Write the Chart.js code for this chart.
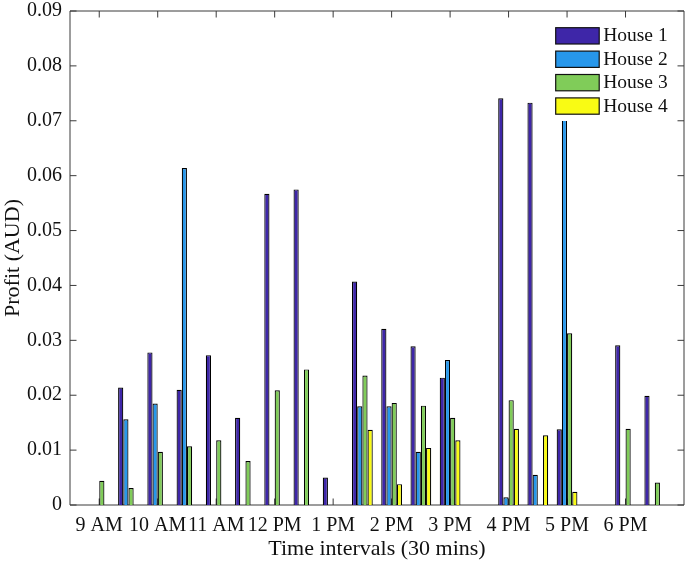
<!DOCTYPE html>
<html>
<head>
<meta charset="utf-8">
<script src="https://cdn.jsdelivr.net/npm/chart.js@4/dist/chart.umd.min.js"></script>
<style>
  html, body { margin: 0; padding: 0; background: #fff; }
  canvas { display: block; }
</style>
</head>
<body>
<canvas id="profitChart" width="685" height="564"></canvas>
<script>
// setup
const intervals = ['9:00', '9:30', '10:00', '10:30', '11:00', '11:30', '12:00', '12:30', '13:00', '13:30',
  '14:00', '14:30', '15:00', '15:30', '16:00', '16:30', '17:00', '17:30', '18:00', '18:30'];
const xTickLabels = ['9 AM', '10 AM', '11 AM', '12 PM', '1 PM', '2 PM', '3 PM', '4 PM', '5 PM', '6 PM'];
const yTicks = [0, 0.01, 0.02, 0.03, 0.04, 0.05, 0.06, 0.07, 0.08, 0.09];
const houseNames = ['House 1', 'House 2', 'House 3', 'House 4'];

const house1 = [0, 0.0214, 0.0278, 0.0210, 0.0273, 0.0159, 0.0567, 0.0575, 0.0050, 0.0407,
  0.0321, 0.0289, 0.0232, 0, 0.0741, 0.0733, 0.0138, 0, 0.0291, 0.0199];
const house2 = [0, 0.0156, 0.0185, 0.0614, 0, 0, 0, 0, 0, 0.0180,
  0.0180, 0.0097, 0.0264, 0, 0.0014, 0.0055, 0.0710, 0, 0, 0];
const house3 = [0.0044, 0.0031, 0.0097, 0.0107, 0.0118, 0.0080, 0.0209, 0.0247, 0, 0.0236,
  0.0186, 0.0181, 0.0159, 0, 0.0191, 0, 0.0313, 0, 0.0139, 0.0041];
const house4 = [0, 0, 0, 0, 0, 0, 0, 0, 0, 0.0137,
  0.0038, 0.0104, 0.0118, 0, 0.0139, 0.0127, 0.0024, 0, 0, 0];

const colors = ['#3e26a8', '#2797eb', '#80cc59', '#f9fb14'];

// x position of each interval is its 1-based index, hour ticks sit on the full hours
const xTickPos = intervals.map((t, i) => i + 1).filter((p, i) => intervals[i].endsWith(':00'));

const toPoints = arr => arr.map((v, i) => ({ x: i + 1, y: v }));

const data = {
  datasets: [house1, house2, house3, house4].map((arr, i) => ({
    label: houseNames[i],
    data: toPoints(arr),
    backgroundColor: colors[i],
    borderColor: '#000',
    borderWidth: 1.2,
    categoryPercentage: 0.71,
    barPercentage: 1.0
  }))
};

const axisColor = '#3a3a3a';
const tickLen = 6.5;

// MATLAB-like box with inward ticks on all four sides
const boxTicks = {
  id: 'boxTicks',
  beforeDatasetsDraw(chart) {
    const ctx = chart.ctx, a = chart.chartArea;
    const xs = chart.scales.x, ys = chart.scales.y;
    ctx.save();
    ctx.strokeStyle = axisColor;
    ctx.lineWidth = 1;
    ctx.beginPath();
    ctx.rect(a.left, a.top, a.right - a.left, a.bottom - a.top);
    xTickPos.forEach(v => {
      const px = xs.getPixelForValue(v);
      ctx.moveTo(px, a.bottom); ctx.lineTo(px, a.bottom - tickLen);
      ctx.moveTo(px, a.top); ctx.lineTo(px, a.top + tickLen);
    });
    yTicks.forEach(v => {
      const py = ys.getPixelForValue(v);
      ctx.moveTo(a.left, py); ctx.lineTo(a.left + tickLen, py);
      ctx.moveTo(a.right, py); ctx.lineTo(a.right - tickLen, py);
    });
    ctx.stroke();
    ctx.restore();
  }
};

// legend inside the axes, top right, on a white patch
const insideLegend = {
  id: 'insideLegend',
  afterDatasetsDraw(chart) {
    const ctx = chart.ctx, a = chart.chartArea;
    const bx = a.right - 134, by = a.top + 8;
    ctx.save();
    ctx.fillStyle = '#fff';
    ctx.fillRect(bx, by, 125, 102);
    ctx.font = '19.5px "Liberation Serif"';
    ctx.textBaseline = 'middle';
    ctx.textAlign = 'left';
    chart.data.datasets.forEach((ds, i) => {
      const y = a.top + 16.7 + i * 23.4;
      const x = a.right - 128.3;
      ctx.fillStyle = ds.backgroundColor;
      ctx.fillRect(x, y, 43.5, 16.3);
      ctx.strokeStyle = '#111';
      ctx.lineWidth = 1.2;
      ctx.strokeRect(x, y, 43.5, 16.3);
      ctx.fillStyle = '#111';
      ctx.fillText(ds.label, x + 47.5, y + 8.6);
    });
    ctx.restore();
  }
};

// config
const config = {
  type: 'bar',
  data,
  options: {
    responsive: false,
    animation: false,
    devicePixelRatio: 1,
    layout: { padding: { top: 11, right: 1, left: 0, bottom: 0 } },
    plugins: {
      legend: { display: false },
      tooltip: { enabled: false }
    },
    scales: {
      x: {
        type: 'linear',
        offset: false,
        min: 0,
        max: intervals.length + 1,
        grid: { display: false, drawTicks: false, offset: false },
        border: { display: false },
        afterBuildTicks: scale => { scale.ticks = xTickPos.map(v => ({ value: v })); },
        afterFit: scale => { scale.height = 59; scale.paddingLeft = 0; scale.paddingRight = 0; },
        ticks: {
          autoSkip: false,
          maxRotation: 0,
          padding: 9,
          color: '#111',
          font: { family: 'Liberation Serif', size: 20 },
          callback: v => xTickLabels[xTickPos.indexOf(v)]
        },
        title: {
          display: true,
          text: 'Time intervals (30 mins)',
          color: '#111',
          font: { family: 'Liberation Serif', size: 22 },
          padding: { top: 0, bottom: 2 }
        }
      },
      y: {
        min: 0,
        max: 0.09,
        grid: { display: false, drawTicks: false },
        border: { display: false },
        afterBuildTicks: scale => { scale.ticks = yTicks.map(v => ({ value: v })); },
        afterFit: scale => { scale.width = 70; scale.paddingTop = 0; scale.paddingBottom = 0; },
        ticks: {
          padding: 8,
          color: '#111',
          font: { family: 'Liberation Serif', size: 20 },
          callback: v => v === 0 ? '0' : v.toFixed(2)
        },
        title: {
          display: true,
          text: 'Profit (AUD)',
          color: '#111',
          font: { family: 'Liberation Serif', size: 22 },
          padding: { top: 0, bottom: 0 }
        }
      }
    }
  },
  plugins: [boxTicks, insideLegend]
};

// render init block
const myChart = new Chart(
  document.getElementById('profitChart'),
  config
);
</script>
</body>
</html>
